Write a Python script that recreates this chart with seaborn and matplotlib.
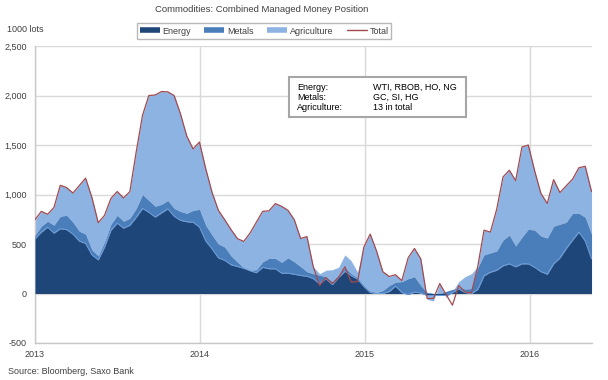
import matplotlib
matplotlib.use('Agg')
import numpy as np
import pandas as pd
import matplotlib.pyplot as plt
import matplotlib.ticker as mticker
from matplotlib.lines import Line2D
from matplotlib.patches import Rectangle
import seaborn as sns

# -------------------------
# Data (1000 lots, fortnightly)
# -------------------------
dates = pd.date_range('2013-01-01', periods=89, freq='14D')

energy = [553, 620, 670, 610, 655, 645, 600, 530, 505, 390,
          340, 470, 640, 710, 660, 690, 770, 860, 820, 772,
          815, 855, 780, 739, 725, 720, 670, 530, 450, 360,
          335, 290, 273, 255, 230, 210, 265, 250, 250, 205,
          205, 195, 182, 175, 150, 100, 150, 90, 160, 225,
          180, 145, 70, 10, 0, 0, 20, 75, 10, -10,
          15, 5, -20, -20, -20, -20, 10, 45, 10, 0,
          40, 180, 215, 235, 280, 300, 270, 300, 300, 265,
          220, 195, 300, 360, 455, 540, 620, 530, 350]

metals = [35, 60, 60, 80, 125, 145, 120, 100, 95, 50,
          40, 50, 60, 80, 70, 70, 90, 140, 120, 110,
          85, 85, 80, 90, 85, 120, 180, 160, 140, 140,
          135, 90, 45, 5, 5, 30, 55, 105, 105, 110,
          155, 125, 90, 45, 50, 85, 20, 30, 30, 35,
          20, 15, 10, 15, 10, 30, 60, 40, 110, 160,
          155, 75, 30, 20, 20, 40, 30, 15, 35, 50,
          220, 210, 195, 195, 260, 290, 210, 270, 350, 375,
          360, 365, 380, 340, 265, 270, 190, 240, 250]

agriculture = [155, 150, 70, 180, 315, 280, 295, 460, 565, 530,
               335, 270, 260, 240, 235, 270, 570, 800, 1060, 1125,
               1140, 1095, 1140, 985, 780, 620, 680, 570, 430, 340,
               275, 265, 235, 265, 375, 480, 510, 480, 555, 565,
               480, 425, 285, 355, 70, 15, 65, 120, 75, 130,
               130, 55, 390, 575, 420, 190, 90, 75, 10, 210,
               285, 270, -70, -75, 100, -60, -20, 60, 125, 150,
               10, 250, 210, 420, 635, 655, 660, 910, 850, 600,
               430, 350, 470, 320, 370, 345, 460, 515, 430]

total = [746, 830, 800, 870, 1093, 1070, 1015, 1090, 1165, 970,
         715, 790, 960, 1030, 965, 1030, 1430, 1800, 2000, 2005,
         2040, 2037, 2000, 1815, 1590, 1460, 1530, 1260, 1020, 840,
         745, 645, 555, 526, 610, 720, 830, 835, 908, 880,
         840, 745, 555, 575, 270, 81, 160, 100, 160, 270,
         115, 120, 469, 600, 430, 220, 172, 190, 130, 360,
         455, 350, -50, -50, 100, -10, -118, 80, 15, 5,
         270, 640, 620, 850, 1177, 1245, 1140, 1480, 1500, 1240,
         1010, 910, 1150, 1020, 1088, 1155, 1270, 1285, 1030]

year_ticks = ['2013-01-01', '2014-01-01', '2015-01-01', '2016-01-01']
year_labels = ['2013', '2014', '2015', '2016']

C_ENERGY = '#1f4678'
C_METALS = '#4a7ebb'
C_AGRI = '#8db3e2'
C_TOTAL = '#a34a4f'
GRID = '#d9d9d9'
TXT = '#404040'

df = pd.DataFrame({'date': dates, 'Energy': energy, 'Metals': metals,
                   'Agriculture': agriculture, 'Total': total})

# -------------------------
# Plot
# -------------------------
sns.set_style('white')
plt.rcParams['font.family'] = ['Liberation Sans', 'DejaVu Sans']

W, H = 608, 380
fig = plt.figure(figsize=(W / 100, H / 100), dpi=100)
ax = fig.add_axes([35 / W, 1 - 343 / H, (592 - 35) / W, (343 - 46) / H])

cum1 = df['Energy']
cum2 = cum1 + df['Metals']
cum3 = cum2 + df['Agriculture']
ax.fill_between(df['date'], cum2, cum3, color=C_AGRI, lw=0, zorder=2)
ax.fill_between(df['date'], cum1, cum2, color=C_METALS, lw=0, zorder=3)
ax.fill_between(df['date'], 0, cum1, color=C_ENERGY, lw=0, zorder=4)
ax.plot(df['date'], cum1, color='#6d9fdc', lw=0.7, zorder=5)
sns.lineplot(data=df, x='date', y='Total', ax=ax, color=C_TOTAL, lw=0.9,
             legend=False, zorder=6)

ax.set_ylim(-500, 2500)
ax.set_yticks(range(-500, 2501, 500))
ax.yaxis.set_major_formatter(mticker.FuncFormatter(lambda v, p: f'{v:,.0f}'))
ax.set_xlim(pd.Timestamp('2013-01-01'), pd.Timestamp('2016-05-18'))
ax.set_xticks(pd.to_datetime(year_ticks))
ax.set_xticklabels(year_labels)
ax.set_xlabel('')
ax.set_ylabel('')

ax.grid(True, color=GRID, lw=1)
ax.set_axisbelow(True)
for s in ['top', 'right']:
    ax.spines[s].set_visible(False)
for s in ['left', 'bottom']:
    ax.spines[s].set_color('#c8c8c8')
    ax.spines[s].set_linewidth(1)
ax.tick_params(axis='both', length=0, labelsize=6.5, colors=TXT)
ax.tick_params(axis='y', pad=6)
ax.tick_params(axis='x', pad=5)

# titles and notes
fig.text(262 / W, 1 - 10 / H, 'Commodities: Combined Managed Money Position',
         ha='center', va='center', fontsize=6.8, color=TXT)
fig.text(7 / W, 1 - 29 / H, '1000 lots', ha='left', va='center',
         fontsize=6.5, color=TXT)
fig.text(8 / W, 1 - 372 / H, 'Source: Bloomberg, Saxo Bank', ha='left',
         va='center', fontsize=6.5, color=TXT)

# legend
handles = [Line2D([], [], color=C_ENERGY, lw=4, solid_capstyle='butt'),
           Line2D([], [], color=C_METALS, lw=4, solid_capstyle='butt'),
           Line2D([], [], color=C_AGRI, lw=4, solid_capstyle='butt'),
           Line2D([], [], color=C_TOTAL, lw=1)]
leg = fig.legend(handles, ['Energy', 'Metals', 'Agriculture', 'Total'],
                 loc='center', bbox_to_anchor=(264 / W, 1 - 31 / H), ncol=4,
                 fontsize=6.5, frameon=True, fancybox=False, handlelength=2.2,
                 handletextpad=0.3, columnspacing=1.5, borderpad=0.35)
leg.get_frame().set_edgecolor('#a6a6a6')
leg.get_frame().set_linewidth(1)
for t in leg.get_texts():
    t.set_color(TXT)

# info box
fig.patches.append(Rectangle((289 / W, 1 - 117 / H), (466 - 289) / W, 40 / H,
                             transform=fig.transFigure, facecolor='white',
                             edgecolor='#a6a6a6', lw=1.5, zorder=10))
rows = [('Energy:', 'WTI, RBOB, HO, NG'),
        ('Metals:', 'GC, SI, HG'),
        ('Agriculture:', '13 in total')]
for i, (k, v) in enumerate(rows):
    y = 1 - (87 + i * 10.5) / H
    fig.text(297 / W, y, k, ha='left', va='center', fontsize=6.5,
             color='black', zorder=11)
    fig.text(373 / W, y, v, ha='left', va='center', fontsize=6.5,
             color='black', zorder=11)

fig.savefig('out.png', dpi=100)
